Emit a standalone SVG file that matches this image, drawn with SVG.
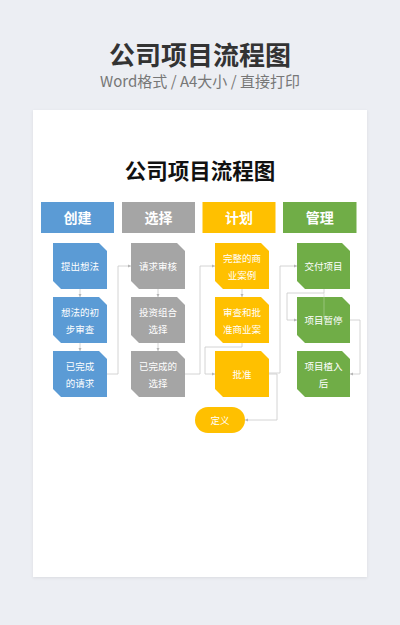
<svg xmlns="http://www.w3.org/2000/svg" width="400" height="625" viewBox="0 0 400 625">
<defs>
<style>
.cjk{font-family:"Noto Sans CJK SC","Noto Sans",sans-serif;}
.hd{font-size:14px;font-weight:bold;fill:#fff;text-anchor:middle;}
.nt{font-size:9.5px;fill:#fff;text-anchor:middle;}
.ln{fill:none;stroke:#c9c9c9;stroke-width:0.8;}
.blue{fill:#5b9bd5;}
.gray{fill:#a5a5a5;}
.yel{fill:#ffc000;}
.grn{fill:#70ad47;}
</style>
<marker id="ar" viewBox="0 0 6 6" refX="6" refY="3" markerWidth="4" markerHeight="4" orient="auto">
<path d="M0,0 L6,3 L0,6 Z" fill="#b5b5b5"/>
</marker>
<filter id="sh" x="-5%" y="-5%" width="110%" height="110%">
<feDropShadow dx="0" dy="1" stdDeviation="1.5" flood-color="#000" flood-opacity="0.08"/>
</filter>
</defs>
<rect width="400" height="625" fill="#eceef3"/>
<text x="200" y="65" class="cjk" font-size="26" font-weight="bold" fill="#333" text-anchor="middle">公司项目流程图</text>
<text x="200" y="87" class="cjk" font-size="15" fill="#777" text-anchor="middle">Word格式 / A4大小 / 直接打印</text>
<rect x="33" y="110" width="334" height="467" fill="#fff" filter="url(#sh)"/>
<text x="200" y="179" class="cjk" font-size="21.5" font-weight="bold" fill="#111" text-anchor="middle">公司项目流程图</text>

<g id="h1"><rect x="41" y="202" width="73" height="31" class="blue"/><text x="77.5" y="222.5" class="cjk hd">创建</text></g>
<g id="h2"><rect x="122" y="202" width="73" height="31" class="gray"/><text x="158.5" y="222.5" class="cjk hd">选择</text></g>
<g id="h3"><rect x="202.5" y="202" width="73" height="31" class="yel"/><text x="239" y="222.5" class="cjk hd">计划</text></g>
<g id="h4"><rect x="283" y="202" width="73.5" height="31" class="grn"/><text x="319.7" y="222.5" class="cjk hd">管理</text></g>

<g id="connectors">
<path class="ln" d="M80,289 V297" marker-end="url(#ar)"/>
<path class="ln" d="M80,343 V351" marker-end="url(#ar)"/>
<path class="ln" d="M106,374 H118 V266 H131" marker-end="url(#ar)"/>
<path class="ln" d="M158,289 V297" marker-end="url(#ar)"/>
<path class="ln" d="M158,343 V351" marker-end="url(#ar)"/>
<path class="ln" d="M185,374 H200 V266 H215" marker-end="url(#ar)"/>
<path class="ln" d="M242,289 V297" marker-end="url(#ar)"/>
<path class="ln" d="M242,343 V347 H205 V374 H215" marker-end="url(#ar)"/>
<path class="ln" d="M269,373 H280 V266 H297" marker-end="url(#ar)"/>
<path class="ln" d="M269,374 H277 V420 H245" marker-end="url(#ar)"/>
<path class="ln" d="M324,289 V293 H287 V320 H297" marker-end="url(#ar)"/>
<path class="ln" d="M324,293 V320" stroke-opacity="0.6"/>
<path class="ln" d="M350,320 H360 V374 H350" marker-end="url(#ar)"/>
</g>

<g id="n-b1"><path class="blue" d="M53,243 H99 L107,251 V289 H61 L53,281 Z"/><text x="80" y="269.5" class="cjk nt">提出想法</text></g>
<g id="n-b2"><path class="blue" d="M53,297 H99 L107,305 V343 H61 L53,335 Z"/><text x="80" y="316" class="cjk nt">想法的初</text><text x="80" y="333" class="cjk nt">步审查</text></g>
<g id="n-b3"><path class="blue" d="M53,351 H99 L107,359 V397 H61 L53,389 Z"/><text x="80" y="370" class="cjk nt">已完成</text><text x="80" y="387" class="cjk nt">的请求</text></g>

<g id="n-g1"><path class="gray" d="M131,243 H177 L185,251 V289 H139 L131,281 Z"/><text x="158" y="269.5" class="cjk nt">请求审核</text></g>
<g id="n-g2"><path class="gray" d="M131,297 H177 L185,305 V343 H139 L131,335 Z"/><text x="158" y="316" class="cjk nt">投资组合</text><text x="158" y="333" class="cjk nt">选择</text></g>
<g id="n-g3"><path class="gray" d="M131,351 H177 L185,359 V397 H139 L131,389 Z"/><text x="158" y="370" class="cjk nt">已完成的</text><text x="158" y="387" class="cjk nt">选择</text></g>

<g id="n-y1"><path class="yel" d="M215,243 H261 L269,251 V289 H223 L215,281 Z"/><text x="242" y="262" class="cjk nt">完整的商</text><text x="242" y="279" class="cjk nt">业案例</text></g>
<g id="n-y2"><path class="yel" d="M215,297 H261 L269,305 V343 H223 L215,335 Z"/><text x="242" y="316" class="cjk nt">审查和批</text><text x="242" y="333" class="cjk nt">准商业案</text></g>
<g id="n-y3"><path class="yel" d="M215,351 H261 L269,359 V397 H223 L215,389 Z"/><text x="242" y="377.5" class="cjk nt">批准</text></g>
<g id="n-def"><rect x="195" y="407" width="50" height="26" rx="13" class="yel"/><text x="220" y="423.5" class="cjk nt">定义</text></g>

<g id="n-m1"><path class="grn" d="M297,243 H342 L350,251 V289 H305 L297,281 Z"/><text x="323.5" y="269.5" class="cjk nt">交付项目</text></g>
<g id="n-m2"><path class="grn" d="M297,297 H342 L350,305 V343 H305 L297,335 Z"/><text x="323.5" y="323.5" class="cjk nt">项目暂停</text></g>
<path d="M324,297 V318" stroke="#ffffff" stroke-opacity="0.35" stroke-width="0.8"/>
<g id="n-m3"><path class="grn" d="M297,351 H342 L350,359 V397 H305 L297,389 Z"/><text x="323.5" y="370" class="cjk nt">项目植入</text><text x="323.5" y="387" class="cjk nt">后</text></g>
</svg>
